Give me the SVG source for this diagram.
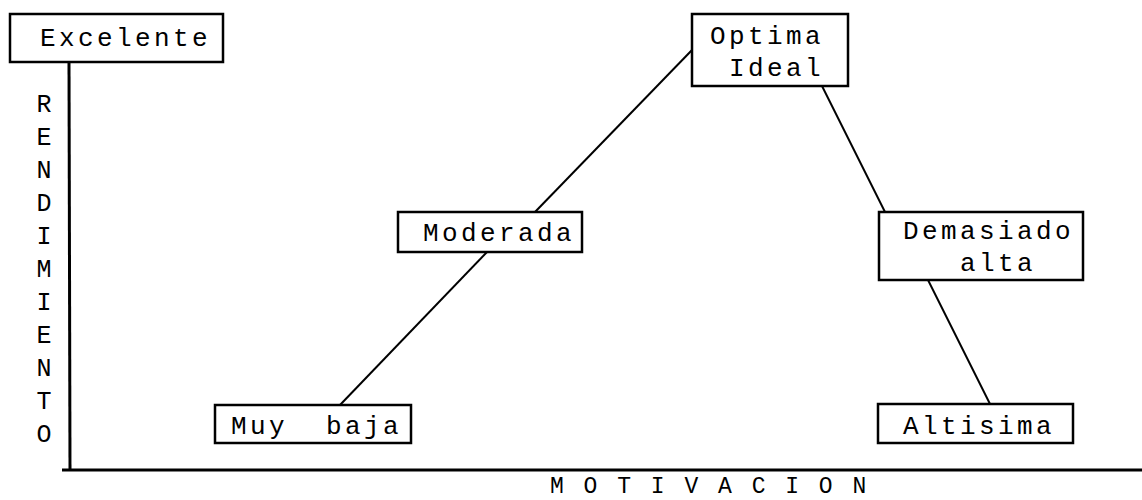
<svg xmlns="http://www.w3.org/2000/svg" width="1142" height="500" viewBox="0 0 1142 500">
<style>
.box{fill:#fff;stroke:#000;stroke-width:2.5}
.t{font-family:"Liberation Mono","DejaVu Sans Mono",monospace;font-size:26px;letter-spacing:3.4px;fill:#000;white-space:pre}
.v{font-family:"Liberation Mono","DejaVu Sans Mono",monospace;font-size:25px;fill:#000;text-anchor:middle}
.ln{stroke:#000;stroke-width:2;fill:none}
.ax{stroke:#000;stroke-width:3;fill:none}
</style>
<rect width="1142" height="500" fill="#fff"/>
<g id="axes">
<line class="ax" x1="69" y1="62" x2="70" y2="470"/>
<line class="ax" x1="62" y1="470" x2="1142" y2="470"/>
</g>
<g id="connectors">
<line class="ln" x1="340" y1="405" x2="487" y2="252"/>
<line class="ln" x1="535" y1="212" x2="692" y2="50"/>
<line class="ln" x1="822" y1="86" x2="885" y2="212"/>
<line class="ln" x1="928" y1="280" x2="990" y2="404"/>
</g>
<g id="excelente">
<rect class="box" x="10" y="14" width="213" height="48"/>
<text class="t" x="40" y="46">Excelente</text>
</g>
<g id="optima">
<rect class="box" x="692" y="14" width="156" height="72"/>
<text class="t" x="710" y="44">Optima</text>
<text class="t" x="729" y="76">Ideal</text>
</g>
<g id="moderada">
<rect class="box" x="398" y="212" width="184" height="40"/>
<text class="t" x="423" y="241">Moderada</text>
</g>
<g id="demasiado">
<rect class="box" x="879" y="212" width="204" height="68"/>
<text class="t" x="903" y="239">Demasiado</text>
<text class="t" x="960" y="271">alta</text>
</g>
<g id="muybaja">
<rect class="box" x="215" y="405" width="196" height="38"/>
<text class="t" x="231" y="434">Muy  baja</text>
</g>
<g id="altisima">
<rect class="box" x="878" y="404" width="195" height="39"/>
<text class="t" x="903" y="434">Altisima</text>
</g>
<g id="rendimiento">
<text class="v" x="44" y="112">R</text>
<text class="v" x="44" y="145">E</text>
<text class="v" x="44" y="178">N</text>
<text class="v" x="44" y="211">D</text>
<text class="v" x="44" y="244">I</text>
<text class="v" x="44" y="277">M</text>
<text class="v" x="44" y="310">I</text>
<text class="v" x="44" y="343">E</text>
<text class="v" x="44" y="376">N</text>
<text class="v" x="44" y="409">T</text>
<text class="v" x="44" y="442">O</text>
</g>
<g id="motivacion">
<text class="t" x="550" y="493" style="font-size:23px;letter-spacing:3px">M O T I V A C I O N</text>
</g>
</svg>
